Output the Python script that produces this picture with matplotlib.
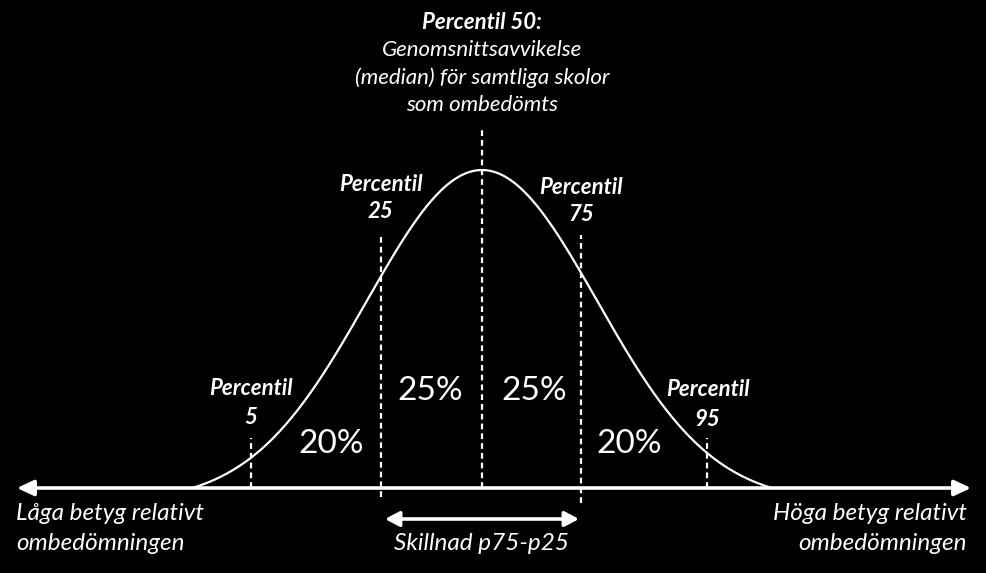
import numpy as np
import matplotlib
matplotlib.use("Agg")
import matplotlib.pyplot as plt
from matplotlib.patches import FancyArrowPatch
from matplotlib import font_manager as fm

# ---------------- data ----------------
percentiles = [5, 25, 50, 75, 95]
# positions of the percentile markers along the axis (in standard-deviation units)
percentile_pos = [-2.01, -0.88, 0.0, 0.86, 1.96]
share_labels = ["20%", "25%", "25%", "20%"]
curve_extent = 2.52          # curve drawn from -extent to +extent
title_bold = "Percentil 50:"
title_lines = ["Genomsnittsavvikelse", "(median) för samtliga skolor", "som ombedömts"]
left_label = ["Låga betyg relativt", "ombedömningen"]
right_label = ["Höga betyg relativt", "ombedömningen"]
range_label = "Skillnad p75-p25"

# ---------------- font ----------------
names = {f.name for f in fm.fontManager.ttflist}
FONT = "Lato" if "Lato" in names else "DejaVu Sans"
plt.rcParams["font.family"] = [FONT, "DejaVu Sans"]

W, H = 987, 573
fig = plt.figure(figsize=(W / 100, H / 100), dpi=100, facecolor="black")
ax = fig.add_axes([0, 0, 1, 1])
ax.set_facecolor("black")
ax.axis("off")

CX, SX = 482.0, 115.0     # pixel of mean, pixels per sigma
BY, SY = 488.0, 318.0     # pixel of baseline, pixels per unit height

def X(px):
    return (px - CX) / SX

def Y(py):
    return (BY - py) / SY

ax.set_xlim(X(0), X(W))
ax.set_ylim(Y(H), Y(0))

# ---------------- bell curve ----------------
xs = np.linspace(-curve_extent, curve_extent, 500)
c = np.exp(-curve_extent ** 2 / 2)
ys = (np.exp(-xs ** 2 / 2) - c) / (1 - c)
ax.plot(xs, ys, color="white", lw=1.6, solid_capstyle="round", zorder=3)

# ---------------- dashed percentile lines ----------------
line_top = {5: Y(438), 25: Y(235), 50: Y(127), 75: Y(235), 95: Y(438)}
line_bot = {5: 0.0, 25: Y(497), 50: 0.0, 75: Y(503), 95: 0.0}
for p, xp in zip(percentiles, percentile_pos):
    ax.plot([xp, xp], [line_bot[p], line_top[p]], color="white", lw=1.6,
            linestyle=(0, (2.6, 1.8)), zorder=2)

# ---------------- main axis arrow ----------------
arr = FancyArrowPatch((X(17), 0.0), (X(971), 0.0),
                      arrowstyle="<|-|>,head_length=1.0,head_width=0.47",
                      mutation_scale=10, lw=2.6, color="white",
                      shrinkA=0, shrinkB=0, zorder=4)
ax.add_patch(arr)

# ---------------- range arrow p25-p75 ----------------
arr2 = FancyArrowPatch((X(385), Y(519)), (X(579), Y(519)),
                       arrowstyle="<|-|>,head_length=0.85,head_width=0.45",
                       mutation_scale=10, lw=2.6, color="white",
                       shrinkA=0, shrinkB=0, zorder=4)
ax.add_patch(arr2)

# ---------------- percentile labels ----------------
lab_y = {5: (388, 417), 25: (184, 211), 75: (187, 214), 95: (389, 419)}
for p, xp in zip(percentiles, percentile_pos):
    if p == 50:
        continue
    y1, y2 = lab_y[p]
    ax.text(xp, Y(y1), "Percentil", color="white", fontsize=16,
            fontweight="bold", fontstyle="italic", ha="center", va="center")
    ax.text(xp, Y(y2), str(p), color="white", fontsize=16,
            fontweight="bold", fontstyle="italic", ha="center", va="center")

# ---------------- title for median ----------------
ax.text(X(482), Y(22), title_bold, color="white", fontsize=16,
        fontweight="bold", fontstyle="italic", ha="center", va="center")
for i, t in enumerate(title_lines):
    ax.text(X(482), Y(50 + 27.5 * i), t, color="white", fontsize=16,
            fontstyle="italic", ha="center", va="center")

# ---------------- share labels ----------------
share_pos = [(331, 444), (430, 391), (534, 391), (629, 444)]
for lab, (px, py) in zip(share_labels, share_pos):
    ax.text(X(px), Y(py), lab, color="white", fontsize=24,
            ha="center", va="center")

# ---------------- bottom labels ----------------
for i, t in enumerate(left_label):
    ax.text(X(16), Y(514 + 30 * i), t, color="white", fontsize=17.5,
            fontstyle="italic", ha="left", va="center")
for i, t in enumerate(right_label):
    ax.text(X(967), Y(514 + 30 * i), t, color="white", fontsize=17.5,
            fontstyle="italic", ha="right", va="center")
ax.text(X(482), Y(543), range_label, color="white", fontsize=17.5,
        fontstyle="italic", ha="center", va="center")

fig.savefig("out.png", dpi=100, facecolor="black")
